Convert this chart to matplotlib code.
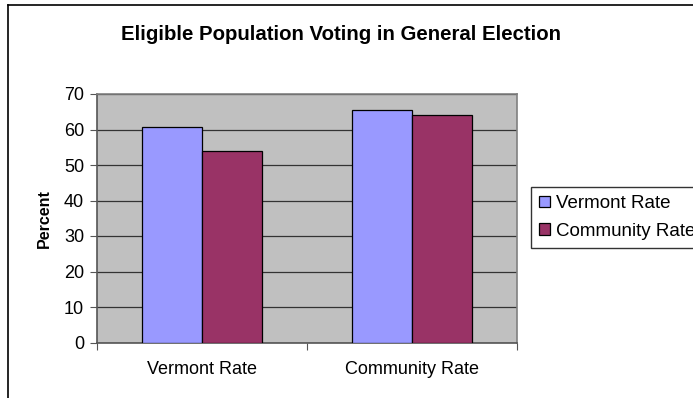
import numpy as np
import matplotlib.pyplot as plt
from matplotlib.lines import Line2D

plt.rcParams['font.family'] = ['Liberation Sans', 'DejaVu Sans']

# voting rates (%) by category
categories = ['Vermont Rate', 'Community Rate']
vermont_rate = [60.7, 65.6]
community_rate = [53.9, 64.1]
series_names = ['Vermont Rate', 'Community Rate']
yticks = [0, 10, 20, 30, 40, 50, 60, 70]

W, H = 693, 398
fig = plt.figure(figsize=(W / 100, H / 100), dpi=100)
fig.patch.set_facecolor('white')

# chart area border (only left and top edges fall inside the image)
fig.add_artist(Line2D([8 / W, 8 / W], [0, 1 - 5 / H], transform=fig.transFigure,
                      color='black', lw=1.2))
fig.add_artist(Line2D([8 / W, 1], [1 - 5 / H, 1 - 5 / H], transform=fig.transFigure,
                      color='black', lw=1.2))

ax = fig.add_axes([96.7 / W, 1 - 342.5 / H, 420 / W, 248.5 / H])
ax.set_facecolor('#C0C0C0')

x = np.arange(len(categories)) + 0.5
bw = 0.286
ax.bar(x - bw / 2, vermont_rate, bw, color='#9999FF', edgecolor='black', lw=0.9,
       label=series_names[0], zorder=3)
ax.bar(x + bw / 2, community_rate, bw, color='#993366', edgecolor='black', lw=0.9,
       label=series_names[1], zorder=3)

ax.set_xlim(0, len(categories))
ax.set_ylim(0, 70)
ax.set_yticks(yticks)
ax.yaxis.grid(True, color='#333333', lw=0.9, zorder=1)
ax.set_axisbelow(True)

# category ticks sit on the boundaries, labels in the middle
ax.set_xticks(np.arange(len(categories) + 1))
ax.set_xticklabels([])
ax.set_xticks(x, minor=True)
ax.set_xticklabels(categories, minor=True)
ax.tick_params(axis='x', which='minor', length=0, pad=13, labelsize=13)
ax.tick_params(axis='x', which='major', direction='out', length=5, color='#555555')
ax.tick_params(axis='y', direction='out', length=5, color='#555555', labelsize=13, pad=4)

for side in ['top', 'right', 'bottom', 'left']:
    ax.spines[side].set_color('#808080')
    ax.spines[side].set_linewidth(1.2)
ax.spines['left'].set_color('#555555')
ax.spines['bottom'].set_color('#555555')

ax.set_ylabel('Percent', fontsize=11.5, fontweight='bold', labelpad=9)

fig.text(341 / W, 1 - 34 / H, 'Eligible Population Voting in General Election',
         ha='center', va='center', fontsize=14.7, fontweight='bold')

leg = fig.legend(loc='upper left', bbox_to_anchor=(531 / W, 1 - 187 / H),
                 prop={'size': 13.5}, frameon=True, fancybox=False, borderaxespad=0,
                 handlelength=0.55, handleheight=0.55, handletextpad=0.35,
                 labelspacing=0.55, borderpad=0.45)
leg.get_frame().set_edgecolor('black')
leg.get_frame().set_linewidth(1.0)

plt.savefig('out.png', dpi=100)
